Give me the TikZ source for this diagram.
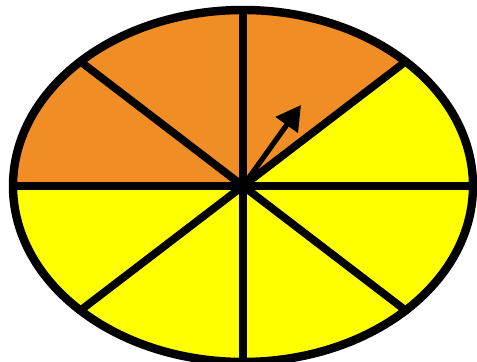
\documentclass[tikz,border=0pt]{standalone}
\usepackage{tikz}
\usetikzlibrary{arrows.meta}

\definecolor{spinorange}{HTML}{F18D25}
\definecolor{spinyellow}{HTML}{FFFF00}

\tikzset{
  rim/.style={line width=2.4pt, black},
  spoke/.style={line width=2.2pt, black},
  pointer/.style={line width=1.5pt, black, -{Triangle[length=7pt, width=7.5pt]}},
  piece/.style={x radius=2.3, y radius=1.76}
}

\begin{document}
\begin{tikzpicture}
\useasboundingbox (-2.43,-1.76) rectangle (2.34,1.86);
\coordinate (hub) at (0,0);
% sectors, counter-clockwise from the right
\fill [spinyellow]  (hub) -- (0:2.3)   arc [start angle=0,   end angle=45,  piece] -- cycle;
\fill [spinorange]  (hub) -- (0,1.76)  arc [start angle=90,  end angle=45,  piece] -- cycle;
\fill [spinorange]  (hub) -- (0,1.76)  arc [start angle=90,  end angle=135, piece] -- cycle;
\fill [spinorange]  (hub) -- (-2.3,0)  arc [start angle=180, end angle=135, piece] -- cycle;
\fill [spinyellow]  (hub) -- (-2.3,0)  arc [start angle=180, end angle=225, piece] -- cycle;
\fill [spinyellow]  (hub) -- (0,-1.76) arc [start angle=270, end angle=225, piece] -- cycle;
\fill [spinyellow]  (hub) -- (0,-1.76) arc [start angle=270, end angle=315, piece] -- cycle;
\fill [spinyellow]  (hub) -- (2.3,0)   arc [start angle=360, end angle=315, piece] -- cycle;
% spokes
\coordinate (top)    at (0,1.76);
\coordinate (bottom) at (0,-1.76);
\coordinate (left)   at (-2.3,0);
\coordinate (right)  at (2.3,0);
\coordinate (ne) at ({2.3*cos(45)},{1.76*sin(45)});
\coordinate (nw) at ({-2.3*cos(45)},{1.76*sin(45)});
\coordinate (sw) at ({-2.3*cos(45)},{-1.76*sin(45)});
\coordinate (se) at ({2.3*cos(45)},{-1.76*sin(45)});
\draw [spoke] (top) -- (bottom);
\draw [spoke] (left) -- (right);
\draw [spoke] (nw) -- (se);
\draw [spoke] (ne) -- (sw);
% rim
\draw [rim] (hub) ellipse [x radius=2.3, y radius=1.76];
% pointer
\coordinate (tip) at (0.58,0.81);
\draw [pointer] (hub) -- (tip);
\end{tikzpicture}
\end{document}
